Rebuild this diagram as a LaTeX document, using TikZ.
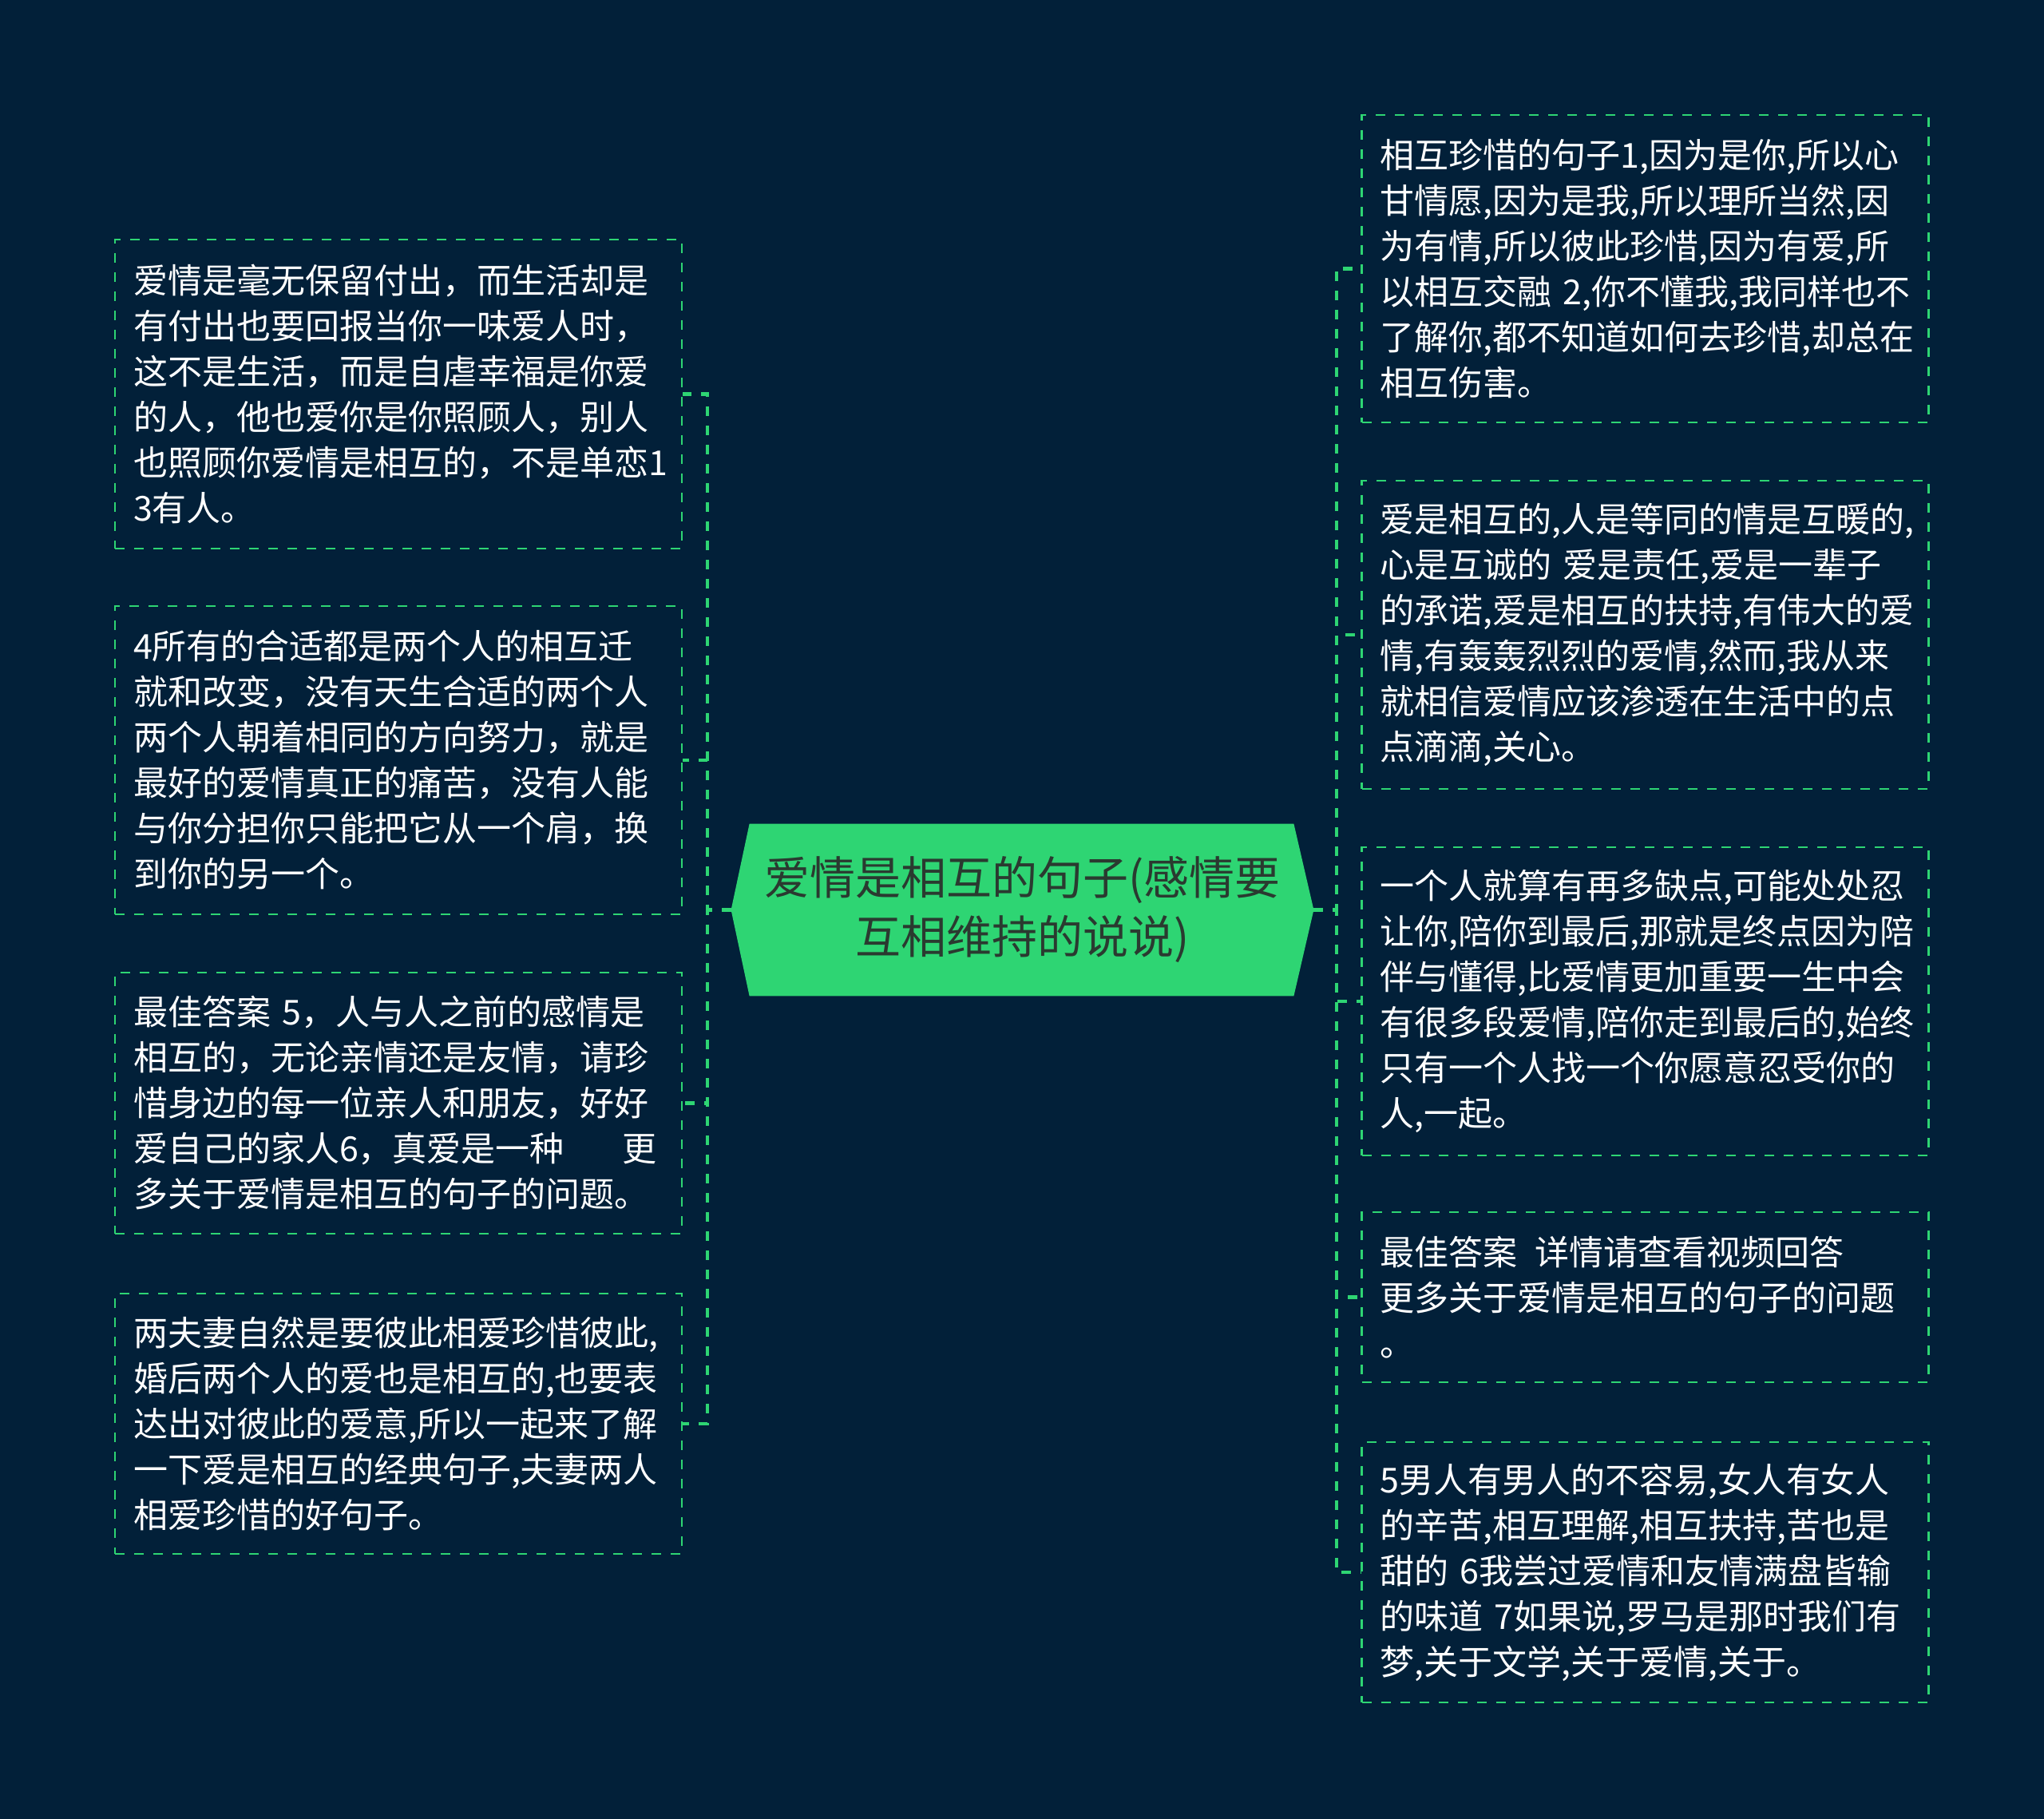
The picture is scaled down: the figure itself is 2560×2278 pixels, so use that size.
\documentclass[tikz,border=0pt]{standalone}
\usepackage{fontspec}
\setmainfont{Noto Sans CJK SC}
\definecolor{bg}{HTML}{022039}
\definecolor{gr}{HTML}{2ED573}
\definecolor{ctext}{HTML}{2A3A30}
\begin{document}
\begin{tikzpicture}[x=0.5pt,y=-0.5pt,
  box/.style={draw=gr, line width=1.2pt, dash pattern=on 6pt off 6pt, text=white,
    align=left, text width=332pt, inner xsep=11.5pt, inner ysep=0pt,
    minimum width=355pt, font=\fontsize{21.5pt}{28.5pt}\selectfont},
  conn/.style={draw=gr, line width=2.4pt, dash pattern=on 6pt off 6pt},
  ctitle/.style={text=ctext, align=center, inner sep=0pt,
    font=\fontsize{28.5pt}{37pt}\selectfont}
]
\fill[bg] (0,0) rectangle (2560,2278);
\useasboundingbox (0,0) rectangle (2560,2278);

% central node
\node[minimum width=364.5pt, minimum height=107.5pt, inner sep=0pt] (c) at (1280.5,1139.5) {};
\fill[gr] (c.west) -- ([xshift=11.5pt]c.north west) -- ([xshift=-12.5pt]c.north east)
  -- (c.east) -- ([xshift=-12.5pt]c.south east) -- ([xshift=11.5pt]c.south west) -- cycle;
\node[ctitle] (ct) at (c.center) {爱情是相互的句子(感情要\\互相维持的说说)};

% left boxes
\node[box, minimum height=193.5pt] (l1) at (499,493.5) {爱情是毫无保留付出，而生活却是\\有付出也要回报当你一味爱人时，\\这不是生活，而是自虐幸福是你爱\\的人，他也爱你是你照顾人，别人\\也照顾你爱情是相互的，不是单恋1\\3有人。};
\node[box, minimum height=193pt] (l2) at (499,952) {4所有的合适都是两个人的相互迁\\就和改变，没有天生合适的两个人\\两个人朝着相同的方向努力，就是\\最好的爱情真正的痛苦，没有人能\\与你分担你只能把它从一个肩，换\\到你的另一个。};
\node[box, minimum height=163.5pt] (l3) at (499,1381.5) {\mbox{最佳答案 5，人与人之前的感情是}\\相互的，无论亲情还是友情，请珍\\惜身边的每一位亲人和朋友，好好\\\mbox{爱自己的家人6，真爱是一种\hspace{1.7em}更}\\多关于爱情是相互的句子的问题。};
\node[box, minimum height=163pt] (l4) at (499,1783) {两夫妻自然是要彼此相爱珍惜彼此,\\婚后两个人的爱也是相互的,也要表\\达出对彼此的爱意,所以一起来了解\\一下爱是相互的经典句子,夫妻两人\\相爱珍惜的好句子。};

% right boxes
\node[box, minimum height=192.5pt] (r1) at (2060.5,336.5) {相互珍惜的句子1,因为是你,所以心\\甘情愿,因为是我,所以理所当然,因\\为有情,所以彼此珍惜,因为有爱,所\\\mbox{以相互交融 2,你不懂我,我同样也不}\\了解你,都不知道如何去珍惜,却总在\\相互伤害。};
\node[box, minimum height=193pt] (r2) at (2060.5,795) {爱是相互的,人是等同的情是互暖的,\\\mbox{心是互诚的 爱是责任,爱是一辈子}\\的承诺,爱是相互的扶持,有伟大的爱\\情,有轰轰烈烈的爱情,然而,我从来\\就相信爱情应该渗透在生活中的点\\点滴滴,关心。};
\node[box, minimum height=193pt] (r3) at (2060.5,1254) {一个人就算有再多缺点,可能处处忍\\让你,陪你到最后,那就是终点因为陪\\伴与懂得,比爱情更加重要一生中会\\有很多段爱情,陪你走到最后的,始终\\只有一个人找一个你愿意忍受你的\\人,一起。};
\node[box, minimum height=106.5pt] (r4) at (2060.5,1624.5) {\mbox{最佳答案\hspace{0.5em}详情请查看视频回答}\\更多关于爱情是相互的句子的问题\\。};
\node[box, minimum height=163pt] (r5) at (2060.5,1969) {5男人有男人的不容易,女人有女人\\的辛苦,相互理解,相互扶持,苦也是\\\mbox{甜的 6我尝过爱情和友情满盘皆输}\\\mbox{的味道 7如果说,罗马是那时我们有}\\梦,关于文学,关于爱情,关于。};

% trunks
\coordinate (lt) at (886,1139.5);
\coordinate (rt) at (1674,1139.5);

% connectors
\foreach \b in {l1,l2,l3,l4}{
  \draw[conn] (c.west) -- (lt) |- (\b.east);
}
\foreach \b in {r1,r2,r3,r4,r5}{
  \draw[conn] (c.east) -- (rt) |- (\b.west);
}
\end{tikzpicture}
\end{document}
